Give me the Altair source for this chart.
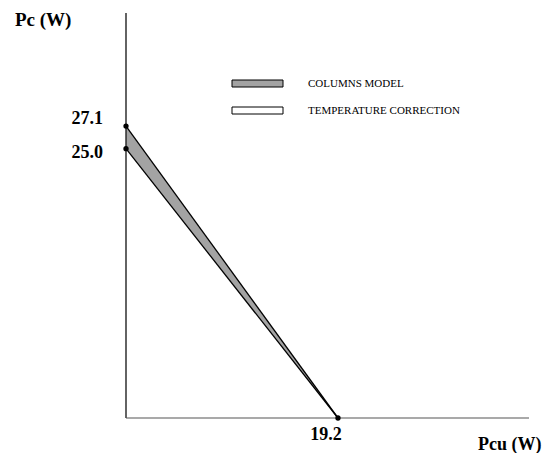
import altair as alt
import pandas as pd

# ---- data ----
pcu = [0.0, 19.2]                 # Pcu (W)
pc_upper = [27.1, 0.0]            # upper boundary of band (Pc, W)
pc_lower = [25.0, 0.0]            # lower boundary of band (Pc, W)
point_x = [0.0, 0.0, 19.2]
point_y = [27.1, 25.0, 0.0]
y_tick_values = [27.1, 25.0]
x_tick_values = [19.2]
legend_labels = ["COLUMNS MODEL", "TEMPERATURE CORRECTION"]
x_title = "Pcu (W)"
y_title = "Pc (W)"
x_max = 36.5
y_max = 37.6

FONT = "Liberation Serif"
BAND_FILL = "#a3a3a3"

band = pd.DataFrame({"pcu": pcu, "upper": pc_upper, "lower": pc_lower})
pts = pd.DataFrame({"x": point_x, "y": point_y})
axes_df = pd.DataFrame({"x0": [0.0], "x1": [x_max], "y0": [0.0], "y1": [y_max]})

xs = alt.Scale(domain=[0, x_max], nice=False, zero=False)
ys = alt.Scale(domain=[0, y_max], nice=False, zero=False)

base = alt.Chart(band)

area = base.mark_area(fill=BAND_FILL, opacity=1, stroke=None).encode(
    x=alt.X("pcu:Q", scale=xs, axis=None),
    y=alt.Y("upper:Q", scale=ys, axis=None),
    y2="lower:Q",
)
upper_line = base.mark_line(color="black", strokeWidth=1.3).encode(
    x=alt.X("pcu:Q", scale=xs, axis=None),
    y=alt.Y("upper:Q", scale=ys, axis=None),
)
lower_line = base.mark_line(color="black", strokeWidth=1.3).encode(
    x=alt.X("pcu:Q", scale=xs, axis=None),
    y=alt.Y("lower:Q", scale=ys, axis=None),
)

ax_base = alt.Chart(axes_df)
y_axis = ax_base.mark_rule(color="#222", strokeWidth=1.4).encode(
    x=alt.X("x0:Q", scale=xs, axis=None),
    y=alt.Y("y0:Q", scale=ys, axis=None),
    y2="y1:Q",
)
x_axis = ax_base.mark_rule(color="#555", strokeWidth=1.2).encode(
    x=alt.X("x0:Q", scale=xs, axis=None),
    x2="x1:Q",
    y=alt.Y("y0:Q", scale=ys, axis=None),
)

points = alt.Chart(pts).mark_circle(color="black", size=28, opacity=1).encode(
    x=alt.X("x:Q", scale=xs, axis=None),
    y=alt.Y("y:Q", scale=ys, axis=None),
)

tick_style = dict(font=FONT, fontSize=18, fontWeight="bold", color="black")
ytick1 = alt.Chart(pd.DataFrame({"v": [y_tick_values[0]]})).mark_text(
    align="right", baseline="middle", dx=-23, dy=-7, **tick_style
).encode(
    x=alt.value(0),
    y=alt.Y("v:Q", scale=ys, axis=None),
    text=alt.Text("v:Q", format=".1f"),
)
ytick2 = alt.Chart(pd.DataFrame({"v": [y_tick_values[1]]})).mark_text(
    align="right", baseline="middle", dx=-23, dy=4, **tick_style
).encode(
    x=alt.value(0),
    y=alt.Y("v:Q", scale=ys, axis=None),
    text=alt.Text("v:Q", format=".1f"),
)
xtick = alt.Chart(pd.DataFrame({"v": x_tick_values, "z": [0.0]})).mark_text(
    align="center", baseline="middle", dx=-12, dy=17, **tick_style
).encode(
    x=alt.X("v:Q", scale=xs, axis=None),
    y=alt.Y("z:Q", scale=ys, axis=None),
    text=alt.Text("v:Q", format=".1f"),
)

title_style = dict(font=FONT, fontWeight="bold", color="black",
                   align="left", baseline="alphabetic")
ytitle = alt.Chart(pd.DataFrame({"t": [y_title]})).mark_text(fontSize=19, **title_style).encode(
    x=alt.value(-111), y=alt.value(13), text="t:N"
)
xtitle = alt.Chart(pd.DataFrame({"t": [x_title]})).mark_text(fontSize=18, **title_style).encode(
    x=alt.value(352), y=alt.value(437), text="t:N"
)

leg1 = pd.DataFrame({"label": [legend_labels[0]]})
leg2 = pd.DataFrame({"label": [legend_labels[1]]})
leg_rect1 = alt.Chart(leg1).mark_rect(fill=BAND_FILL, stroke="black", strokeWidth=1).encode(
    x=alt.value(106), x2=alt.value(157), y=alt.value(67), y2=alt.value(74)
)
leg_rect2 = alt.Chart(leg2).mark_rect(fill="white", stroke="black", strokeWidth=1).encode(
    x=alt.value(106), x2=alt.value(157), y=alt.value(94), y2=alt.value(101)
)
leg_style = dict(font=FONT, fontSize=11, color="black", align="left", baseline="middle")
leg_text1 = alt.Chart(leg1).mark_text(**leg_style).encode(
    x=alt.value(182), y=alt.value(71), text="label:N"
)
leg_text2 = alt.Chart(leg2).mark_text(**leg_style).encode(
    x=alt.value(182), y=alt.value(98), text="label:N"
)

chart = alt.layer(
    area, upper_line, lower_line, y_axis, x_axis, points,
    ytick1, ytick2, xtick, ytitle, xtitle,
    leg_rect1, leg_rect2, leg_text1, leg_text2,
).properties(
    width=403,
    height=405,
    autosize=alt.AutoSizeParams(type="none"),
    padding={"left": 118, "top": 5, "right": 17, "bottom": 35},
    background="white",
).configure_view(stroke=None)

chart.save("out.html", embed_options={"renderer": "svg", "actions": False})
